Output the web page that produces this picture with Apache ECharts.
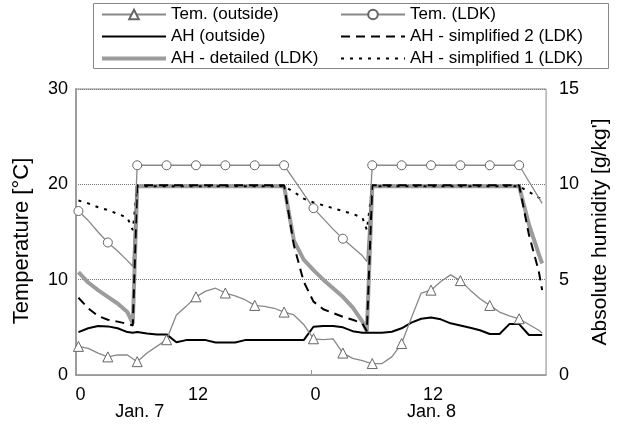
<!DOCTYPE html>
<html><head><meta charset="utf-8">
<script src="https://cdn.jsdelivr.net/npm/echarts@6/dist/echarts.min.js"></script>
<style>html,body{margin:0;padding:0;background:#fff}#c{width:619px;height:432px}</style>
</head><body><div id="c"></div>
<script>
// time stamps in hours from Jan. 7, 0:00
const hours = [0.25,1.25,2.25,3.25,4.25,5.25,5.8,6.25,7.25,8.25,9.25,10.25,11.25,12.25,13.25,14.25,15.25,16.25,17.25,18.25,19.25,20.25,21.25,22.25,23.25,
  24.25,25.25,26.25,27.25,28.25,29.25,29.7,30.25,31.25,32.25,33.25,34.25,35.25,36.25,37.25,38.25,39.25,40.25,41.25,42.25,43.25,44.25,45.25,46.25,47.25,47.6];
const markerHours = [0.25,3.25,6.25,9.25,12.25,15.25,18.25,21.25,24.25,27.25,30.25,33.25,36.25,39.25,42.25,45.25];

// temperature [°C]
const temOutside = [3.0,2.8,2.3,1.9,2.1,2.1,1.7,1.4,2.3,3.0,3.7,6.3,7.2,8.2,8.8,9.1,8.6,8.3,7.9,7.3,7.2,7.0,6.6,6.3,5.3,
  3.8,3.7,3.8,2.3,1.75,1.5,1.35,1.2,1.2,1.9,3.3,6.0,8.6,8.9,9.8,10.5,9.9,8.9,8.0,7.3,6.6,6.2,5.9,5.3,4.7,4.4];
const temLDK = [17.2,16.2,15.0,13.9,13.0,12.0,11.4,22,22,22,22,22,22,22,22,22,22,22,22,22,22,22,22,20.5,19.0,
  17.5,16.4,15.3,14.3,13.4,12.5,11.9,22,22,22,22,22,22,22,22,22,22,22,22,22,22,22,22,20.3,18.6,18.0];

// absolute humidity [g/kg']
const ahOutside = [2.25,2.45,2.57,2.55,2.45,2.25,2.22,2.25,2.18,2.13,2.13,1.72,1.83,1.83,1.83,1.7,1.7,1.7,1.83,1.83,1.83,1.83,1.83,1.83,1.83,
  2.53,2.57,2.57,2.5,2.3,2.22,2.22,2.22,2.22,2.27,2.45,2.75,2.95,3.02,2.92,2.71,2.6,2.48,2.35,2.15,2.15,2.67,2.67,2.1,2.1,2.1];
const ahDetailed = [5.4,4.85,4.45,4.1,3.75,3.3,2.7,9.9,9.9,9.9,9.9,9.9,9.9,9.9,9.9,9.9,9.9,9.9,9.9,9.9,9.9,9.9,9.9,7.05,6.05,
  5.5,5.0,4.55,4.1,3.55,2.8,2.3,9.9,9.9,9.9,9.9,9.9,9.9,9.9,9.9,9.9,9.9,9.9,9.9,9.9,9.9,9.9,9.9,7.9,6.35,5.85];
const ahSimp2 = [4.05,3.5,3.1,2.9,2.8,2.68,2.6,9.95,9.95,9.95,9.95,9.95,9.95,9.95,9.95,9.95,9.95,9.95,9.95,9.95,9.95,9.95,9.95,6.8,4.9,
  3.85,3.45,3.25,3.05,2.9,2.7,2.3,9.95,9.95,9.95,9.95,9.95,9.95,9.95,9.95,9.95,9.95,9.95,9.95,9.95,9.95,9.95,9.95,7.35,5.45,4.45];
const ahSimp1 = [9.15,9.0,8.8,8.65,8.45,8.25,7.6,9.9,9.9,9.9,9.9,9.9,9.9,9.9,9.9,9.9,9.9,9.9,9.9,9.9,9.9,9.9,9.9,9.6,9.25,
  9.05,8.9,8.75,8.6,8.45,8.25,7.6,9.9,9.9,9.9,9.9,9.9,9.9,9.9,9.9,9.9,9.9,9.9,9.9,9.9,9.9,9.9,9.9,9.6,9.3,9.2];

const hourTicks = [0,12,24,36];
const dayLabelPos = [6.5,36.3];
const dayLabels = ['Jan. 7','Jan. 8'];
const names = ['Tem. (outside)','Tem. (LDK)','AH (outside)','AH - simplified 2 (LDK)','AH - detailed (LDK)','AH - simplified 1 (LDK)'];

const FONT = 'Liberation Sans, Arial, sans-serif';
function build(vals, marked) {
  return hours.map((t, i) => {
    const it = { value: [t, vals[i]] };
    if (marked && markerHours.indexOf(t) < 0) it.symbol = 'none';
    return it;
  });
}
const plain = (n, extra) => Object.assign({ name: n, itemStyle: { opacity: 0 } }, extra || {});
const legendCommon = { orient: 'vertical', top: 6, padding: 0, itemGap: 5, itemWidth: 64, itemHeight: 12,
  textStyle: { fontSize: 17, color: '#000', fontFamily: FONT } };

const chart = echarts.init(document.getElementById('c'), null, { renderer: 'canvas' });
chart.setOption({
  animation: false,
  backgroundColor: '#fff',
  textStyle: { fontFamily: FONT },
  grid: { left: 76, right: 67, top: 89, bottom: 57, show: true, borderColor: '#888', borderWidth: 1 },
  legend: [
    Object.assign({ left: 100, data: [names[0], plain(names[2]), plain(names[4], { lineStyle: { width: 4, color: '#9c9c9c' } })] }, legendCommon),
    Object.assign({ left: 340, data: [names[1], plain(names[3]), plain(names[5])] }, legendCommon)
  ],
  graphic: [
    { type: 'rect', shape: { x: 93.5, y: 3.5, width: 515, height: 65 }, style: { fill: 'none', stroke: '#888', lineWidth: 1 }, z: 10 }
  ],
  xAxis: [
    { type: 'value', min: 0, max: 48, interval: 12,
      axisLine: { lineStyle: { color: '#999', width: 1.5 } },
      axisTick: { show: true, inside: true, length: 5, customValues: [24], lineStyle: { color: '#999' } },
      splitLine: { show: false },
      axisLabel: { customValues: hourTicks, formatter: v => String(v % 24), fontSize: 18, color: '#000', margin: 11,
        padding: [0, 0, 0, 9], fontFamily: FONT } },
    { type: 'value', min: 0, max: 48, position: 'bottom',
      axisLine: { show: false }, axisTick: { show: false }, splitLine: { show: false },
      axisLabel: { customValues: dayLabelPos, formatter: v => dayLabels[dayLabelPos.indexOf(v)] || '', fontSize: 18, color: '#000', margin: 28, fontFamily: FONT } }
  ],
  yAxis: [
    { type: 'value', min: 0, max: 30, interval: 10,
      name: 'Temperature [°C]', nameLocation: 'middle', nameGap: 43, nameRotate: 90,
      nameTextStyle: { fontSize: 22, color: '#000', fontFamily: FONT, padding: [0, 18, 0, 0] },
      axisLine: { show: true, lineStyle: { color: '#aaa', width: 2 } },
      axisTick: { show: false },
      axisLabel: { fontSize: 18, color: '#000', margin: 8, fontFamily: FONT },
      splitLine: { show: true, lineStyle: { type: 'dotted', color: '#777', width: 1 } } },
    { type: 'value', min: 0, max: 15, interval: 5, position: 'right',
      name: "Absolute humidity [g/kg']", nameLocation: 'middle', nameGap: 27, nameRotate: 90,
      nameTextStyle: { fontSize: 21, color: '#000', fontFamily: FONT },
      axisLine: { show: true, lineStyle: { color: '#999', width: 1.5 } },
      axisTick: { show: false },
      axisLabel: { fontSize: 18, color: '#000', margin: 13, fontFamily: FONT },
      splitLine: { show: false } }
  ],
  series: [
    { name: names[4], type: 'line', yAxisIndex: 1, data: build(ahDetailed, false), symbol: 'none',
      lineStyle: { color: '#9c9c9c', width: 4 }, itemStyle: { color: '#9c9c9c' }, z: 2 },
    { name: names[2], type: 'line', yAxisIndex: 1, data: build(ahOutside, false), symbol: 'none',
      lineStyle: { color: '#000', width: 2 }, itemStyle: { color: '#000' }, z: 3 },
    { name: names[3], type: 'line', yAxisIndex: 1, data: build(ahSimp2, false), symbol: 'none',
      lineStyle: { color: '#000', width: 2, type: [9, 6] }, itemStyle: { color: '#000' }, z: 4 },
    { name: names[5], type: 'line', yAxisIndex: 1, data: build(ahSimp1, false), symbol: 'none',
      lineStyle: { color: '#000', width: 2, type: [3, 6] }, itemStyle: { color: '#000' }, z: 4 },
    { name: names[0], type: 'line', yAxisIndex: 0, data: build(temOutside, true), symbol: 'triangle', symbolSize: 10,
      lineStyle: { color: '#888', width: 1.3 }, itemStyle: { color: '#fff', borderColor: '#666', borderWidth: 1 }, z: 5 },
    { name: names[1], type: 'line', yAxisIndex: 0, data: build(temLDK, true), symbol: 'circle', symbolSize: 9,
      lineStyle: { color: '#888', width: 1.3 }, itemStyle: { color: '#fff', borderColor: '#666', borderWidth: 1 }, z: 5 }
  ]
});
</script>
</body></html>
